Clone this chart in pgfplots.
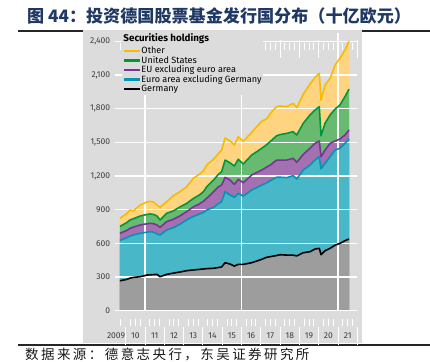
\documentclass[border=0pt]{standalone}
\usepackage{fontspec}
\setmainfont{Fira Sans}
\newfontfamily\cjk{Noto Sans CJK SC}
\newfontfamily\cjkwide{Noto Sans CJK SC}[LetterSpace=18]
\usepackage{pgfplots}
\usepackage{pgfplotstable}
\pgfplotsset{compat=1.18}
\definecolor{panel}{RGB}{220,220,220}
\definecolor{titleblue}{RGB}{31,56,100}
\definecolor{tickgray}{RGB}{60,60,60}
\definecolor{gerfill}{RGB}{157,157,157}
\definecolor{eurofill}{RGB}{72,183,200}
\definecolor{euroline}{RGB}{0,150,180}
\definecolor{eufill}{RGB}{163,112,178}
\definecolor{euline}{RGB}{122,52,148}
\definecolor{usfill}{RGB}{104,186,112}
\definecolor{usline}{RGB}{0,150,62}
\definecolor{othfill}{RGB}{254,212,128}
\definecolor{othline}{RGB}{250,186,0}

\pgfplotstableread{
t ger euro eu us oth
2009.70 267 627 690 752 824
2010.05 279 650 715 785 865
2010.22 290 666 734 809 898
2010.40 297 675 745 820 890
2010.75 303 690 764 844 942
2011.10 318 700 775 858 970
2011.26 320 705 779 862 975
2011.45 322 700 775 858 968
2011.62 324 684 764 844 942
2011.78 303 675 743 809 922
2012.12 324 719 794 868 972
2012.47 335 740 815 890 1025
2012.81 345 770 845 925 1061
2013.16 357 809 883 957 1105
2013.50 363 840 925 1000 1180
2013.80 368 860 950 1030 1215
2014.02 372 875 975 1060 1245
2014.20 375 898 1002 1105 1299
2014.55 378 920 1060 1165 1350
2014.80 385 955 1105 1215 1400
2014.97 390 972 1120 1239 1433
2015.15 428 1061 1189 1343 1540
2015.40 416 1031 1165 1319 1515
2015.63 398 1011 1127 1290 1477
2015.83 413 1046 1171 1350 1551
2016.09 413 1022 1141 1308 1510
2016.53 428 1076 1210 1388 1590
2017.05 458 1120 1254 1448 1690
2017.30 476 1140 1280 1480 1710
2017.50 482 1160 1300 1510 1760
2017.82 492 1190 1343 1560 1819
2018.00 499 1190 1343 1570 1825
2018.34 496 1186 1343 1581 1819
2018.68 496 1204 1358 1596 1849
2018.86 488 1174 1323 1566 1810
2019.20 517 1254 1394 1671 1930
2019.55 526 1299 1448 1745 2020
2019.81 550 1343 1492 1789 2080
2020.03 556 1373 1513 1819 2116
2020.12 500 1265 1373 1560 1878
2020.33 535 1314 1433 1671 2012
2020.59 556 1373 1492 1745 2072
2020.85 585 1433 1513 1798 2190
2021.10 600 1448 1531 1834 2250
2021.36 624 1492 1566 1908 2324
2021.57 639 1531 1611 1976 2404
}\datatable

\begin{document}
\begin{tikzpicture}[x=1pt,y=1pt]
\useasboundingbox (0,0) rectangle (430,361);
\node[anchor=west, inner sep=0, text=titleblue, font=\cjk\bfseries\fontsize{17.1}{18}\selectfont] at (27,345) {图 44：投资德国股票基金发行国分布（十亿欧元）};
\draw[line width=1.5pt, black!85] (18,330) -- (430,330);
\fill[panel] (83,18) rectangle (362,331);
\draw[line width=1.2pt, black!85] (18,16) -- (430,16);
\node[anchor=north west, inner sep=0, text=black!90, font=\cjkwide\fontsize{13.5}{14}\selectfont] at (25,13.2) {数据来源：德意志央行，东吴证券研究所};

\begin{axis}[
  at={(115.1pt,50.3pt)}, anchor=south west,
  scale only axis, width=242.2pt, height=269.2pt,
  xmin=2009.45, xmax=2022, ymin=0, ymax=2400,
  clip=false,
  axis line style={draw=none},
  tick align=outside,
  major tick length=0pt, minor tick length=7pt,
  xtick={2009.5,2010.5,...,2021.5},
  xticklabels={2009,10,11,12,13,14,15,16,17,18,19,20,21},
  minor xtick={2009.75,2010.25,2010.5,2010.75,2011.25,2011.5,2011.75,2012.25,2012.5,2012.75,2013.25,2013.5,2013.75,2014.25,2014.5,2014.75,2015.25,2015.5,2015.75,2016.25,2016.5,2016.75,2017.25,2017.5,2017.75,2018.25,2018.5,2018.75,2019.25,2019.5,2019.75,2020.25,2020.5,2020.75,2021.25,2021.5,2021.75},
  extra x ticks={2010,2011,...,2022},
  extra x tick labels={},
  extra x tick style={major tick length=18pt, tick style={white, line width=1pt, yshift=-8.3pt}},
  x tick style={white, line width=1pt, yshift=-8.3pt},
  y tick style={draw=none},
  ytick={0,300,...,2400},
  /pgf/number format/assume math mode=true,
  /pgf/number format/1000 sep={,},
  scaled y ticks=false,
  tick label style={font=\fontsize{8.5}{10}\selectfont, text=tickgray},
  xticklabel style={anchor=base, yshift=-27.8pt},
  yticklabel style={anchor=east, xshift=-1.5pt},
  legend style={at={(0.026,1.031)}, anchor=north west, fill=panel, draw=none,
    font=\fontsize{9.1}{10}\selectfont, inner xsep=1pt, inner ysep=1pt,
    row sep=0pt,
    nodes={inner sep=0.5pt, text height=6.7pt, text depth=1.8pt}},
  legend cell align=left,
  legend image code/.code={\draw[line width=2.4pt] (0pt,0pt) -- (16pt,0pt);},
]
\addlegendimage{empty legend}
\addlegendentry[text depth=4.3pt]{\hspace*{-18pt}\textbf{\fontsize{9.8}{10}\selectfont Securities holdings}}
\addlegendimage{othline}\addlegendentry{Other}
\addlegendimage{usline}\addlegendentry{United States}
\addlegendimage{euline}\addlegendentry{EU excluding euro area}
\addlegendimage{euroline}\addlegendentry{Euro area excluding Germany}
\addlegendimage{black}\addlegendentry{Germany}

\addplot[fill=othfill, draw=none, forget plot] table[x=t,y=oth]{\datatable} \closedcycle;
\addplot[fill=usfill, draw=none, forget plot] table[x=t,y=us]{\datatable} \closedcycle;
\addplot[fill=eufill, draw=none, forget plot] table[x=t,y=eu]{\datatable} \closedcycle;
\addplot[fill=eurofill, draw=none, forget plot] table[x=t,y=euro]{\datatable} \closedcycle;
\addplot[fill=gerfill, draw=none, forget plot] table[x=t,y=ger]{\datatable} \closedcycle;

\draw[white, line width=1.3pt] (axis cs:2009.45,0) -- (axis cs:2022,0);
\draw[white, line width=1.3pt] (axis cs:2009.45,300) -- (axis cs:2022,300);
\draw[white, line width=1.3pt] (axis cs:2009.45,600) -- (axis cs:2022,600);
\draw[white, line width=1.3pt] (axis cs:2009.45,900) -- (axis cs:2022,900);
\draw[white, line width=1.3pt] (axis cs:2009.45,1200) -- (axis cs:2022,1200);
\draw[white, line width=1.3pt] (axis cs:2009.45,1500) -- (axis cs:2022,1500);
\draw[white, line width=1.3pt] (axis cs:2009.45,1800) -- (axis cs:2022,1800);
\draw[white, line width=1.3pt] (axis cs:2009.45,2100) -- (axis cs:2022,2100);
\draw[white, line width=1.3pt] (axis cs:2009.45,2400) -- (axis cs:2022,2400);
\draw[white, line width=1.3pt] (axis cs:2011,0) -- (axis cs:2011,2480);
\draw[white, line width=1.3pt] (axis cs:2016,0) -- (axis cs:2016,2480);
\draw[white, line width=1.3pt] (axis cs:2021,0) -- (axis cs:2021,2480);

\addplot[othline, line width=1.6pt, line join=round, forget plot] table[x=t,y=oth]{\datatable};
\addplot[usline, line width=1.6pt, line join=round, forget plot] table[x=t,y=us]{\datatable};
\addplot[euline, line width=1.6pt, line join=round, forget plot] table[x=t,y=eu]{\datatable};
\addplot[euroline, line width=1.6pt, line join=round, forget plot] table[x=t,y=euro]{\datatable};
\addplot[black, line width=1.6pt, line join=round, forget plot] table[x=t,y=ger]{\datatable};
\end{axis}
\end{tikzpicture}
\end{document}
